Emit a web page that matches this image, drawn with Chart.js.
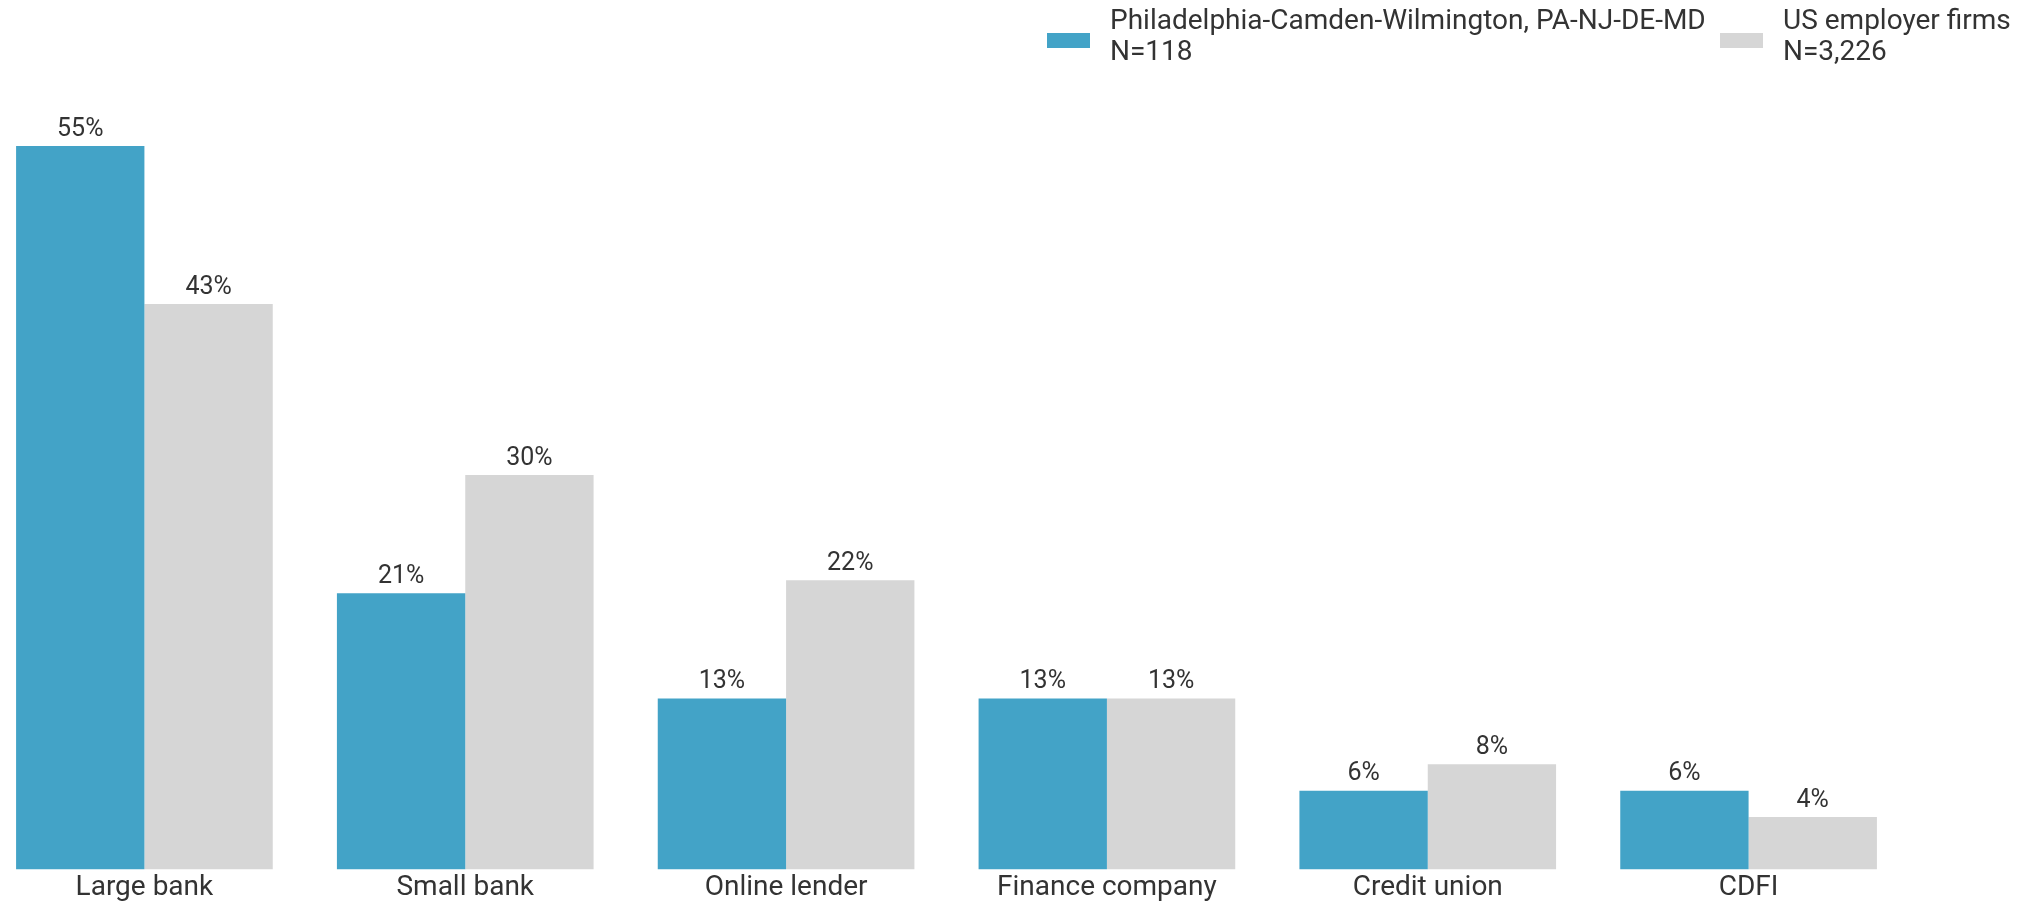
<!DOCTYPE html>
<html>
<head>
<meta charset="utf-8">
<script src="https://cdn.jsdelivr.net/npm/chart.js@4"></script>
<style>
  html, body { margin: 0; padding: 0; background: #fff; overflow: hidden; }
  #wrap { position: absolute; left: -16px; top: 0; width: 2052px; height: 907px; }
</style>
</head>
<body>
<div id="wrap"><canvas id="myChart"></canvas></div>
<script>
var categories = ['Large bank', 'Small bank', 'Online lender', 'Finance company', 'Credit union', 'CDFI'];
var phillyValues = [55, 21, 13, 13, 6, 6];
var usValues = [43, 30, 22, 13, 8, 4];
var phillyLabel = ['Philadelphia-Camden-Wilmington, PA-NJ-DE-MD', 'N=118'];
var usLabel = ['US employer firms', 'N=3,226'];

var FONT = 'Roboto, "Liberation Sans", sans-serif';
var TEXT = '#333333';

// value labels above each bar
var valueLabels = {
    id: 'valueLabels',
    afterDatasetsDraw: function(chart) {
        var ctx = chart.ctx;
        ctx.save();
        ctx.font = '25px ' + FONT;
        ctx.fillStyle = TEXT;
        ctx.textAlign = 'center';
        ctx.textBaseline = 'bottom';
        chart.data.datasets.forEach(function(ds, i) {
            chart.getDatasetMeta(i).data.forEach(function(bar, j) {
                ctx.fillText(ds.data[j] + '%', bar.x, bar.y - 4);
            });
        });
        ctx.restore();
    }
};

// two-line legend at top right (box x positions in canvas px)
var legendX = [1063, 1736];
var topLegend = {
    id: 'topLegend',
    afterDraw: function(chart) {
        var ctx = chart.ctx;
        ctx.save();
        ctx.font = '28px ' + FONT;
        var boxW = 43, boxH = 15, gapText = 20;
        chart.data.datasets.forEach(function(ds, i) {
            var x = legendX[i];
            ctx.fillStyle = ds.backgroundColor;
            ctx.fillRect(x, 33, boxW, boxH);
            ctx.fillStyle = TEXT;
            ctx.textAlign = 'left';
            ctx.textBaseline = 'middle';
            ds.label.forEach(function(l, k) {
                ctx.fillText(l, x + boxW + gapText, 22 + k * 31);
            });
        });
        ctx.restore();
    }
};

var ctx = document.getElementById('myChart').getContext('2d');
var chart = new Chart(ctx, {
    type: 'bar',
    data: {
        labels: categories,
        datasets: [
            {
                label: phillyLabel,
                backgroundColor: 'rgb(67,163,199)',
                data: phillyValues
            },
            {
                label: usLabel,
                backgroundColor: 'rgb(214,214,214)',
                data: usValues
            }
        ]
    },
    options: {
        responsive: true,
        maintainAspectRatio: false,
        animation: false,
        layout: { padding: { top: 146, right: 127, left: 0, bottom: 0 } },
        datasets: { bar: { barPercentage: 1, categoryPercentage: 0.8 } },
        plugins: {
            legend: { display: false },
            tooltip: { enabled: false }
        },
        scales: {
            x: {
                grid: { display: false, drawTicks: false },
                border: { display: false },
                ticks: { color: TEXT, font: { family: FONT, size: 28, lineHeight: 1.05 }, padding: 4 }
            },
            y: {
                display: false,
                min: 0,
                max: 55
            }
        }
    },
    plugins: [valueLabels, topLegend]
});
</script>
</body>
</html>
